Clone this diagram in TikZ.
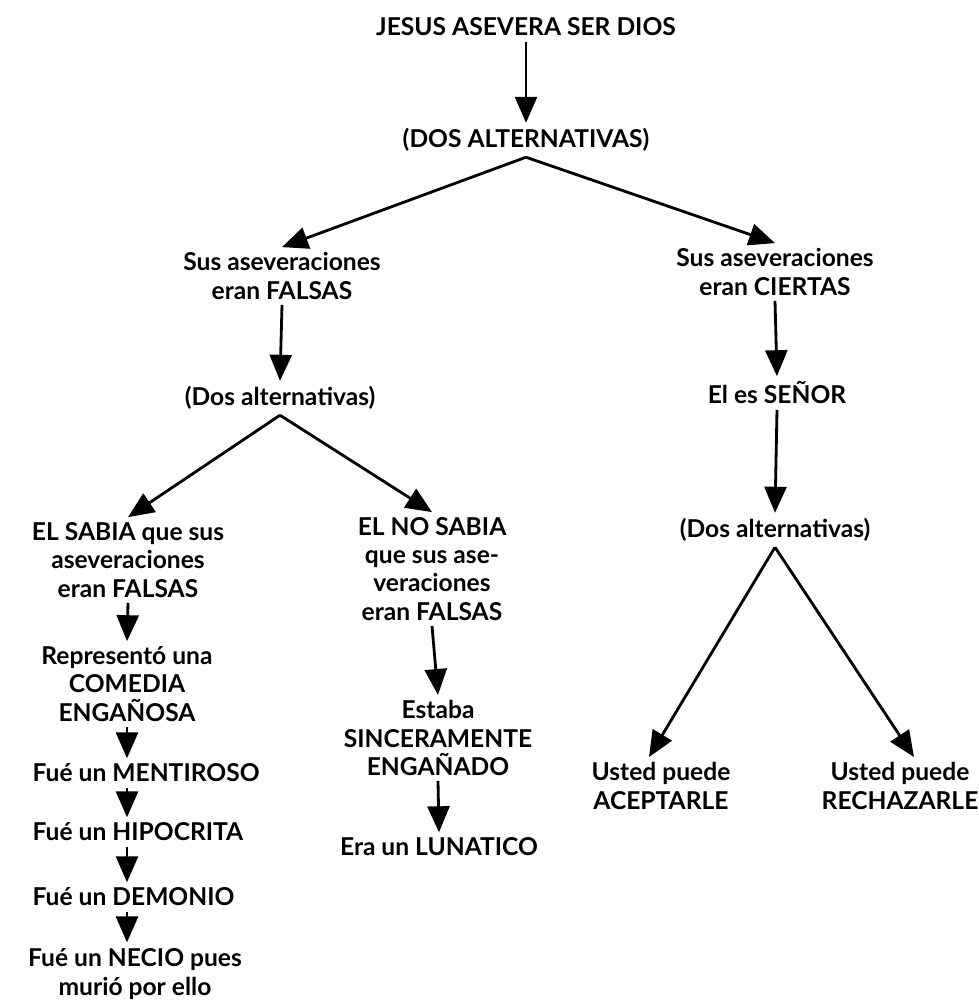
\documentclass[tikz,border=0pt]{standalone}
\usepackage{fontspec}
\setmainfont{Lato}
\usetikzlibrary{arrows.meta}

\begin{document}
\begin{tikzpicture}[x=0.02cm, y=-0.02cm, >={Triangle[length=0.52cm,width=0.44cm]},
  txt/.style={font=\bfseries\fontsize{14}{16}\selectfont, align=center, inner sep=3pt},
  arr/.style={->, line width=1.6pt}]
  \useasboundingbox (0,0) rectangle (978,1001);
  \node[txt] (jesus) at (526,27) {JESUS ASEVERA SER DIOS};
  \node[txt] (dos) at (526,140) {(DOS ALTERNATIVAS)};
  \node[txt] (falsas) at (282,276) {Sus aseveraciones\\eran FALSAS};
  \node[txt] (ciertas) at (775,272) {Sus aseveraciones\\eran CIERTAS};
  \node[txt] (altF) at (280,398) {(Dos alternativas)};
  \node[txt] (senor) at (777,393) {El es SEÑOR};
  \node[txt] (altC) at (775,530) {(Dos alternativas)};
  \node[txt] (sabia) at (128,560) {EL SABIA que sus\\aseveraciones\\eran FALSAS};
  \node[txt] (nosabia) at (432,569) {EL NO SABIA\\que sus ase-\\veraciones\\eran FALSAS};
  \node[txt] (comedia) at (127,684) {Representó una\\COMEDIA\\ENGAÑOSA};
  \node[txt] (estaba) at (438,738) {Estaba\\SINCERAMENTE\\ENGAÑADO};
  \node[txt] (lunatico) at (439,847) {Era un LUNATICO};
  \node[txt, anchor=west] (mentiroso) at (27,773) {Fué un MENTIROSO};
  \node[txt, anchor=west] (hipocrita) at (27,832) {Fué un HIPOCRITA};
  \node[txt, anchor=west] (demonio) at (27,897) {Fué un DEMONIO};
  \node[txt] (necio) at (135,974) {Fué un NECIO pues\\[1pt]murió por ello};
  \node[txt] (acepta) at (661,786) {Usted puede\\ACEPTARLE};
  \node[txt] (rechaza) at (900,786) {Usted puede\\RECHAZARLE};

  \draw[arr] (jesus.south) -- (dos.north);
  \draw[arr] (dos.south) -- (falsas.north);
  \draw[arr] (dos.south) -- (ciertas.north);
  \draw[arr] (falsas.south) -- (altF.north);
  \draw[arr] (ciertas.south) -- (senor.north);
  \draw[arr] (senor.south) -- (altC.north);
  \draw[arr] (altF.south) -- (sabia.north);
  \draw[arr] (altF.south) -- (nosabia.north);
  \draw[arr] (altC.south) -- ([xshift=-0.24cm]acepta.north);
  \draw[arr] (altC.south) -- ([xshift=0.28cm]rechaza.north);
  \draw[arr] (sabia.south) -- (comedia.north);
  \draw[arr] (comedia.south) -- (comedia.south |- mentiroso.north);
  \draw[arr] (comedia.south |- mentiroso.south) -- (comedia.south |- hipocrita.north);
  \draw[arr] (comedia.south |- hipocrita.south) -- (comedia.south |- demonio.north);
  \draw[arr] (comedia.south |- demonio.south) -- (comedia.south |- necio.north);
  \draw[arr] (nosabia.south) -- (estaba.north);
  \draw[arr] (estaba.south) -- (lunatico.north);
\end{tikzpicture}
\end{document}
